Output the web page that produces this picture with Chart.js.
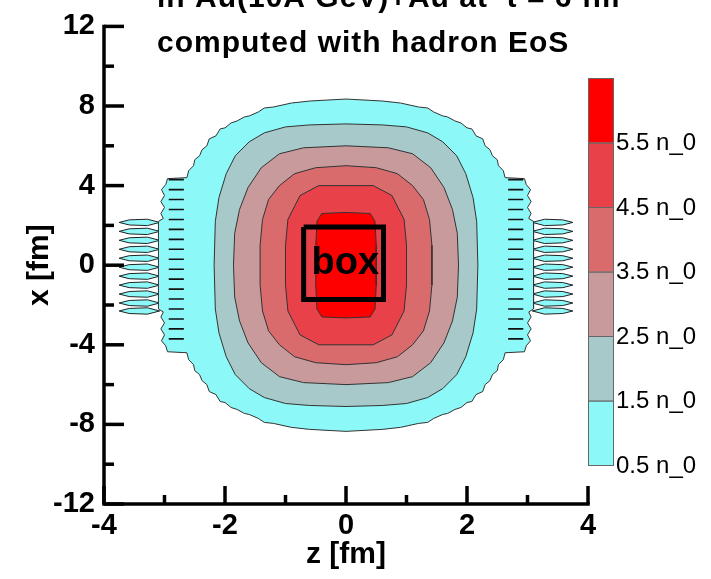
<!DOCTYPE html>
<html><head><meta charset="utf-8">
<script src="https://cdn.jsdelivr.net/npm/chart.js@4/dist/chart.umd.min.js"></script>
<style>html,body{margin:0;padding:0;background:#fff}#wrap{width:711px;height:579px;position:relative}</style>
</head><body><div id="wrap"><canvas id="c" width="711" height="579"></canvas></div>
<script>
// ---- data ----
const titleLines = ['in Au(10A GeV)+Au at  t = 6 fm', 'computed with hadron EoS'];
const xAxisTitle = 'z [fm]';
const yAxisTitle = 'x [fm]';
const levels = [0.5, 1.5, 2.5, 3.5, 4.5, 5.5];
const levelLabels = ['0.5 n_0', '1.5 n_0', '2.5 n_0', '3.5 n_0', '4.5 n_0', '5.5 n_0'];
const levelColors = ['#8cf8f8', '#a7c9c9', '#c99a9c', '#d96b6d', '#e8414a', '#ff0000'];
// one quadrant (z>=0, x>=0) of each contour boundary, [z, x] in fm
const contour05 = [[0,8.35],[0.6,8.25],[0.9,8.15],[1.2,7.95],[1.35,7.9],[1.45,7.7],[1.6,7.5],[1.68,7.45],[1.8,7.25],[1.9,7.15],[2.0,6.9],[2.08,6.85],[2.15,6.5],[2.26,6.35],[2.3,6.0],[2.38,5.8],[2.42,5.5],[2.5,5.3],[2.52,5.0],[2.6,4.75],[2.63,4.4],[2.95,4.35],[2.98,4.05],[3.05,3.8],[3.0,3.5],[3.06,3.2],[3.0,2.9],[3.06,2.6],[3.02,2.35],[3.1,2.2],[3.1,1.0],[3.1,0]];
const contour15 = [[0,7.1],[0.6,7.05],[1.0,6.95],[1.35,6.65],[1.6,6.2],[1.83,5.5],[1.98,4.6],[2.1,3.4],[2.16,2.2],[2.18,0]];
const contour25 = [[0,6.0],[0.7,5.9],[1.1,5.6],[1.4,4.9],[1.62,3.9],[1.76,2.8],[1.84,1.6],[1.86,0]];
const contour35 = [[0,5.0],[0.5,4.9],[0.85,4.6],[1.1,4.0],[1.28,3.3],[1.38,2.3],[1.42,1.0],[1.42,0]];
const contour45 = [[0,4.0],[0.45,4.0],[0.76,3.5],[0.96,2.3],[1.0,1.0],[1.0,0]];
const contour55 = [[0,2.65],[0.4,2.6],[0.48,2.2],[0.5,1.0],[0.5,0]];
// fringe lenses on both sides (x centres), z range |z| and half height
const lensRows = [2.15, 1.7, 1.25, 0.8, 0.35, -0.1, -0.55, -1.0, -1.45, -1.9, -2.3];
const lensZ = [3.08, 3.75];
const lensHalf = 0.16;
// small islands inside the cyan band (x rows) and their |z| range
const dashRows = [4.3, 3.8, 3.3, 2.8, 2.3, 1.8, 1.3, 0.8, 0.3, -0.2, -0.7, -1.2, -1.7, -2.2, -2.7, -3.2, -3.7];
const dashZ = [2.68, 2.93];
// marked box: z range, x range
const boxZ = [-0.7, 0.62];
const boxX = [-1.72, 1.92];
const boxLabel = 'box';
// axes
const xMajorTicks = [-4, -2, 0, 2, 4];
const xMinorTicks = [-3, -1, 1, 3];
const yMajorTicks = [-12, -8, -4, 0, 4, 8, 12];
const yMinorTicks = [-10, -6, -2, 2, 6, 10];

// ---- build datasets ----
function fullLoop(q) {
  const pts = [];
  q.forEach(([z, x]) => pts.push({x: z, y: x}));
  q.slice(0, -1).reverse().forEach(([z, x]) => pts.push({x: z, y: -x}));
  q.slice(1).forEach(([z, x]) => pts.push({x: -z, y: -x}));
  q.slice(1, -1).reverse().forEach(([z, x]) => pts.push({x: -z, y: x}));
  pts.push({x: q[0][0], y: q[0][1]});
  return pts;
}
const contours = [contour05, contour15, contour25, contour35, contour45, contour55];
const datasets = [];
// box on top
datasets.push({
  data: [{x: boxZ[0], y: boxX[1]}, {x: boxZ[1], y: boxX[1]}, {x: boxZ[1], y: boxX[0]}, {x: boxZ[0], y: boxX[0]}, {x: boxZ[0], y: boxX[1]}],
  borderColor: '#000', borderWidth: 5, fill: false, pointRadius: 0, borderJoinStyle: 'miter'
});
// dashes
[-1, 1].forEach(s => {
  const d = [];
  dashRows.forEach(r => { d.push({x: s * dashZ[0], y: r}); d.push({x: s * dashZ[1], y: r}); d.push({x: s * dashZ[1], y: null}); });
  datasets.push({data: d, borderColor: '#111', borderWidth: 1.6, fill: false, pointRadius: 0, spanGaps: false});
});
// contours inner -> outer
for (let i = contours.length - 1; i >= 0; i--) {
  datasets.push({
    data: fullLoop(contours[i]), fill: 'shape', backgroundColor: levelColors[i],
    borderColor: '#333', borderWidth: 1, pointRadius: 0, tension: 0
  });
}
// lenses
[-1, 1].forEach(s => {
  lensRows.forEach(r => {
    const zi = lensZ[0], zo = lensZ[1], zm1 = zi + (zo - zi) * 0.3, zm2 = zi + (zo - zi) * 0.75;
    const pts = [[zi, r], [zm1, r + lensHalf], [zm2, r + lensHalf * 0.8], [zo, r], [zm2, r - lensHalf * 0.8], [zm1, r - lensHalf], [zi, r]];
    datasets.push({
      data: pts.map(([z, x]) => ({x: s * z, y: x})), fill: 'shape', backgroundColor: levelColors[0],
      borderColor: '#222', borderWidth: 1, pointRadius: 0
    });
  });
});

// ---- decorations ----
const decor = {
  id: 'decor',
  afterDraw(chart) {
    const ctx = chart.ctx, xs = chart.scales.x, ys = chart.scales.y;
    const L = xs.getPixelForValue(-4), R = xs.getPixelForValue(4);
    const T = ys.getPixelForValue(12), B = ys.getPixelForValue(-12);
    ctx.save();
    ctx.strokeStyle = '#000'; ctx.lineWidth = 3.5; ctx.lineCap = 'square';
    ctx.beginPath(); ctx.moveTo(L, T); ctx.lineTo(L, B); ctx.lineTo(R, B); ctx.stroke();
    ctx.lineCap = 'butt';
    const tick = (x1, y1, x2, y2) => { ctx.beginPath(); ctx.moveTo(x1, y1); ctx.lineTo(x2, y2); ctx.stroke(); };
    xMajorTicks.forEach(v => { const p = xs.getPixelForValue(v); tick(p, B, p, B - 18); });
    xMinorTicks.forEach(v => { const p = xs.getPixelForValue(v); tick(p, B, p, B - 9); });
    yMajorTicks.forEach(v => { const p = ys.getPixelForValue(v); tick(L, p, L + 20, p); });
    yMinorTicks.forEach(v => { const p = ys.getPixelForValue(v); tick(L, p, L + 10, p); });
    // box label
    ctx.fillStyle = '#000';
    ctx.font = 'bold 38px "Liberation Sans", Arial, sans-serif';
    ctx.textAlign = 'center'; ctx.textBaseline = 'middle';
    ctx.fillText(boxLabel, xs.getPixelForValue((boxZ[0] + boxZ[1]) / 2 + 0.03), ys.getPixelForValue((boxX[0] + boxX[1]) / 2));
    // colour bar
    const cbL = 588, cbW = 25, cbBottom = 465, band = 64.5;
    ctx.lineWidth = 1; ctx.strokeStyle = '#666';
    levelColors.forEach((c, i) => {
      const y0 = cbBottom - (i + 1) * band;
      ctx.fillStyle = c; ctx.fillRect(cbL, y0, cbW, band);
      ctx.strokeRect(cbL + 0.5, y0 + 0.5, cbW, band);
    });
    ctx.fillStyle = '#000';
    ctx.font = '24px "Liberation Sans", Arial, sans-serif';
    ctx.textAlign = 'left'; ctx.textBaseline = 'middle';
    levelLabels.forEach((t, i) => ctx.fillText(t, cbL + cbW + 3, cbBottom - i * band + 1));
    // title
    ctx.font = 'bold 30px "Liberation Sans", Arial, sans-serif';
    ctx.textBaseline = 'alphabetic';
    try { ctx.letterSpacing = '1px'; } catch (e) {}
    ctx.fillText(titleLines[0], 157, 7);
    ctx.fillText(titleLines[1], 157, 52);
    ctx.restore();
  }
};

new Chart(document.getElementById('c'), {
  type: 'line',
  data: {datasets},
  plugins: [decor],
  options: {
    responsive: false, animation: false, devicePixelRatio: 1,
    layout: {padding: {top: 22, right: 123, left: 0, bottom: 0}},
    plugins: {legend: {display: false}, tooltip: {enabled: false}, title: {display: false}},
    elements: {line: {tension: 0}},
    scales: {
      x: {
        type: 'linear', min: -4, max: 4,
        grid: {display: false, drawTicks: false}, border: {display: false},
        ticks: {stepSize: 2, color: '#000', padding: 5, font: {family: '"Liberation Sans", Arial, sans-serif', size: 29, weight: 'bold'}},
        title: {display: true, text: xAxisTitle, color: '#000', padding: {top: 0, bottom: 6}, font: {family: '"Liberation Sans", Arial, sans-serif', size: 30, weight: 'bold'}},
        afterFit(s) { s.height = 75; }
      },
      y: {
        type: 'linear', min: -12, max: 12,
        grid: {display: false, drawTicks: false}, border: {display: false},
        ticks: {stepSize: 4, color: '#000', padding: 9, font: {family: '"Liberation Sans", Arial, sans-serif', size: 29, weight: 'bold'}},
        title: {display: true, text: yAxisTitle, color: '#000', padding: {top: 22, bottom: 0}, font: {family: '"Liberation Sans", Arial, sans-serif', size: 30, weight: 'bold'}},
        afterFit(s) { s.width = 104; }
      }
    }
  }
});
</script></body></html>
